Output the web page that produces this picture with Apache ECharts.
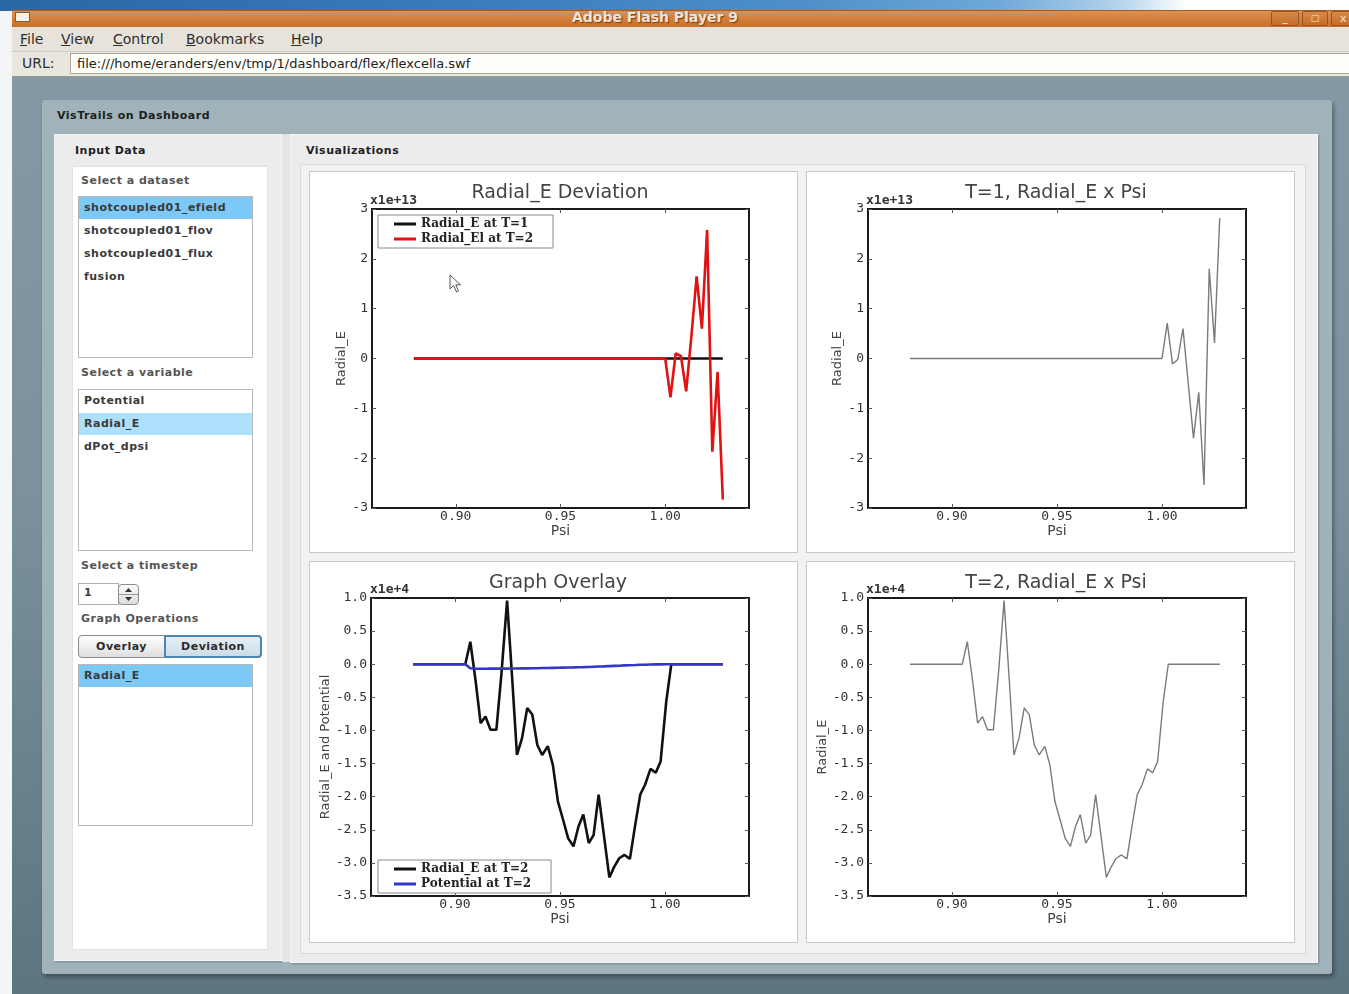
<!DOCTYPE html>
<html><head><meta charset="utf-8">
<script src="https://cdn.jsdelivr.net/npm/echarts@6/dist/echarts.min.js"></script>
<style>
html,body{margin:0;padding:0;width:1349px;height:994px;overflow:hidden;background:#f3f5f7;font-family:"DejaVu Sans",sans-serif;}
.a{position:absolute;box-sizing:border-box;}
.ui{font-size:11px;font-weight:bold;letter-spacing:0.5px;white-space:nowrap;}
.lbl{color:#555;}
.item{color:#3a3a3a;}
.list{background:#fff;border:1px solid #b9b9b9;}
.menu{font-size:14px;color:#2e2e2e;top:31px;line-height:16px;}
</style></head><body>
<!-- desktop strip -->
<div class="a" style="left:0;top:0;width:1349px;height:11px;background:linear-gradient(90deg,#2a66a4 0%,#3a7cbc 35%,#4f90ca 60%,#6fa8d8 74%,#b5d3ec 83%,#ffffff 88%);"></div>
<!-- window title bar -->
<div class="a" style="left:12px;top:10px;width:1337px;height:17px;background:linear-gradient(#de9150,#c76e2a);border-top:1px solid #a55a20;"></div>
<div class="a" style="left:15px;top:12px;width:15px;height:10px;background:#f4f0ea;border:1px solid #8a5a30;"></div>
<div class="a" style="left:520px;top:9px;width:270px;height:18px;text-align:center;font-size:14px;font-weight:bold;color:#f1e4d6;text-shadow:1px 1px 1px #7a3e10;line-height:16px;">Adobe Flash Player 9</div>
<div class="a" style="left:1271px;top:11px;width:28px;height:15px;border:1px solid #9a5420;border-radius:2px;background:linear-gradient(#d98a48,#c46c2a);color:#f3e3d3;font-size:11px;text-align:center;line-height:12px;">_</div>
<div class="a" style="left:1302px;top:11px;width:26px;height:15px;border:1px solid #9a5420;border-radius:2px;background:linear-gradient(#d98a48,#c46c2a);color:#f3e3d3;font-size:9px;text-align:center;line-height:13px;">&#9633;</div>
<div class="a" style="left:1331px;top:11px;width:26px;height:15px;border:1px solid #9a5420;border-radius:2px;background:linear-gradient(#d98a48,#c46c2a);color:#f3e3d3;font-size:11px;text-align:left;padding-left:8px;line-height:13px;">x</div>
<!-- menu bar -->
<div class="a" style="left:12px;top:27px;width:1337px;height:25px;background:#e7e3da;border-bottom:1px solid #d0cbc1;"></div>
<div class="a menu" style="left:20px;"><u>F</u>ile</div>
<div class="a menu" style="left:61px;"><u>V</u>iew</div>
<div class="a menu" style="left:113px;"><u>C</u>ontrol</div>
<div class="a menu" style="left:186px;"><u>B</u>ookmarks</div>
<div class="a menu" style="left:291px;"><u>H</u>elp</div>
<!-- url row -->
<div class="a" style="left:12px;top:52px;width:1337px;height:25px;background:#e9e6de;border-bottom:1px solid #9a9a94;"></div>
<div class="a" style="left:22px;top:55px;font-size:14px;color:#2e2e2e;line-height:16px;">URL:</div>
<div class="a" style="left:70px;top:53px;width:1290px;height:21px;background:#fffffa;border:1px solid #aba79d;font-size:13px;color:#222;line-height:19px;padding-left:6px;">file:///home/eranders/env/tmp/1/dashboard/flex/flexcella.swf</div>
<!-- flash content background -->
<div class="a" style="left:12px;top:77px;width:1337px;height:917px;background:linear-gradient(#8399a5 0%,#7b929e 45%,#5c7581 100%);"></div>
<!-- outer panel -->
<div class="a" style="left:42px;top:100px;width:1290px;height:874px;background:#a0b3ba;border-radius:3px;box-shadow:2px 3px 4px rgba(0,0,0,0.35);"></div>
<div class="a ui" style="left:57px;top:109px;color:#1e1e1e;">VisTrails on Dashboard</div>
<!-- input panel -->
<div class="a" style="left:54px;top:134px;width:228px;height:827px;background:#ececec;border:1px solid #f7f7f7;box-shadow:1px 1px 2px rgba(0,0,0,0.25);"></div>
<div class="a ui" style="left:75px;top:144px;color:#1e1e1e;">Input Data</div>
<div class="a" style="left:72px;top:166px;width:196px;height:784px;background:#fff;border:1px solid #e2e2e2;"></div>
<div class="a ui lbl" style="left:81px;top:174px;">Select a dataset</div>
<div class="a list" style="left:78px;top:196px;width:175px;height:162px;"></div>
<div class="a" style="left:79px;top:197px;width:173px;height:22px;background:#7dc9f6;"></div>
<div class="a ui item" style="left:84px;top:201px;">shotcoupled01_efield</div>
<div class="a ui item" style="left:84px;top:224px;">shotcoupled01_flov</div>
<div class="a ui item" style="left:84px;top:247px;">shotcoupled01_flux</div>
<div class="a ui item" style="left:84px;top:270px;">fusion</div>
<div class="a ui lbl" style="left:81px;top:366px;">Select a variable</div>
<div class="a list" style="left:78px;top:389px;width:175px;height:162px;"></div>
<div class="a" style="left:79px;top:413px;width:173px;height:22px;background:#ade0fa;"></div>
<div class="a ui item" style="left:84px;top:394px;">Potential</div>
<div class="a ui item" style="left:84px;top:417px;">Radial_E</div>
<div class="a ui item" style="left:84px;top:440px;">dPot_dpsi</div>
<div class="a ui lbl" style="left:81px;top:559px;">Select a timestep</div>
<div class="a" style="left:78px;top:583px;width:41px;height:22px;background:#fff;border:1px solid #b0b0b0;"></div>
<div class="a ui item" style="left:84px;top:586px;">1</div>
<div class="a" style="left:118px;top:584px;width:21px;height:21px;background:linear-gradient(#fdfdfd,#dcdcdc);border:1px solid #8c8c8c;border-radius:4px;"></div>
<div class="a" style="left:119px;top:594px;width:19px;height:1px;background:#9a9a9a;"></div>
<svg class="a" style="left:118px;top:584px;" width="21" height="21"><path d="M7,8 L10.5,4 L14,8 Z" fill="#333"/><path d="M7,13 L10.5,17 L14,13 Z" fill="#333"/></svg>
<div class="a ui lbl" style="left:81px;top:612px;">Graph Operations</div>
<div class="a ui" style="left:78px;top:635px;width:87px;height:23px;background:linear-gradient(#ffffff,#dedede);border:1px solid #8a8a8a;border-radius:4px 0 0 4px;text-align:center;line-height:21px;color:#2a2a2a;">Overlay</div>
<div class="a ui" style="left:164px;top:635px;width:98px;height:23px;background:linear-gradient(#e4eef4,#cddde8);border:2px solid #4b86b4;border-radius:0 4px 4px 0;text-align:center;line-height:19px;color:#2a2a2a;">Deviation</div>
<div class="a list" style="left:78px;top:664px;width:175px;height:162px;"></div>
<div class="a" style="left:79px;top:665px;width:173px;height:22px;background:#7dc9f6;"></div>
<div class="a ui item" style="left:84px;top:669px;">Radial_E</div>
<!-- separator strip -->
<div class="a" style="left:282px;top:134px;width:8px;height:828px;background:#e3e6e7;"></div>
<!-- visualization panel -->
<div class="a" style="left:290px;top:134px;width:1028px;height:829px;background:#ececec;border:1px solid #f7f7f7;box-shadow:1px 1px 2px rgba(0,0,0,0.25);"></div>
<div class="a ui" style="left:306px;top:144px;color:#1e1e1e;">Visualizations</div>
<div class="a" style="left:300px;top:164px;width:1006px;height:790px;background:#f2f2f2;border:1px solid #dadada;"></div>
<div class="a" style="left:309px;top:171px;width:489px;height:382px;background:#fff;border:1px solid #c9c9c9;"></div>
<div class="a" style="left:806px;top:171px;width:489px;height:382px;background:#fff;border:1px solid #c9c9c9;"></div>
<div class="a" style="left:309px;top:561px;width:489px;height:382px;background:#fff;border:1px solid #c9c9c9;"></div>
<div class="a" style="left:806px;top:561px;width:489px;height:382px;background:#fff;border:1px solid #c9c9c9;"></div>

<div id="chart" class="a" style="left:0;top:0;width:1349px;height:994px;"></div>
<svg class="a" style="left:449px;top:274px;" width="14" height="20"><path d="M1,1 L1,15 L4.5,11.5 L7.5,18 L9.5,17 L6.8,10.8 L11.5,10.8 Z" fill="#fff" stroke="#555" stroke-width="1"/></svg>

<script>
// ---- data ----
const psiTicks = [0.90, 0.95, 1.00];
// upper panels: psi grid and Radial_E values (x1e+13)
const psiT1 = [0.8800, 1.0000, 1.0025, 1.0050, 1.0075, 1.0100, 1.0125, 1.0150, 1.0175, 1.0200, 1.0225, 1.0250, 1.0275];
const devRadialE_T1 = [0, 0, 0, 0, 0, 0, 0, 0, 0, 0, 0, 0, 0];
const devRadialE_T2 = [0, 0, -0.78, 0.10, 0.05, -0.66, 0.45, 1.65, 0.60, 2.58, -1.87, -0.27, -2.83];
const radialE_T1 = [0, 0, 0.71, -0.11, -0.02, 0.60, -0.50, -1.60, -0.68, -2.54, 1.80, 0.31, 2.82];
// lower panels: psi grid, Radial_E and Potential at T=2 (x1e+4)
const psiT2 = [0.8800, 0.9049, 0.9073, 0.9098, 0.9122, 0.9145, 0.9169, 0.9197, 0.9221, 0.9248,
  0.9272, 0.9295, 0.9319, 0.9344, 0.9368, 0.9392, 0.9415, 0.9442, 0.9466, 0.9490,
  0.9513, 0.9539, 0.9564, 0.9588, 0.9611, 0.9637, 0.9660, 0.9684, 0.9709, 0.9735,
  0.9758, 0.9782, 0.9807, 0.9833, 0.9858, 0.9882, 0.9905, 0.9931, 0.9956, 0.9979,
  1.0006, 1.0030, 1.0275];
const radialE_T2 = [0, 0, 0.34, -0.25, -0.89, -0.79, -0.99, -0.99, -0.15, 0.96,
  -0.20, -1.37, -1.12, -0.66, -0.76, -1.22, -1.37, -1.24, -1.52, -2.07,
  -2.33, -2.63, -2.75, -2.45, -2.27, -2.70, -2.58, -1.97, -2.58, -3.22,
  -3.06, -2.93, -2.88, -2.94, -2.43, -1.97, -1.82, -1.58, -1.64, -1.47,
  -0.56, 0, 0];
const potential_T2 = [0, 0, -0.062, -0.068, -0.068, -0.068, -0.067, -0.067, -0.066, -0.066,
  -0.065, -0.064, -0.063, -0.062, -0.061, -0.060, -0.058, -0.057, -0.055, -0.054,
  -0.052, -0.050, -0.048, -0.046, -0.044, -0.041, -0.038, -0.035, -0.032, -0.028,
  -0.025, -0.022, -0.018, -0.015, -0.012, -0.009, -0.007, -0.005, -0.003, -0.002,
  -0.001, 0, 0];
const chartTitles = ['Radial_E Deviation', 'T=1, Radial_E x Psi', 'Graph Overlay', 'T=2, Radial_E x Psi'];
const yNames = ['Radial_E', 'Radial_E', 'Radial_E and Potential', 'Radial_E'];
const offsetTexts = ['x1e+13', 'x1e+13', 'x1e+4', 'x1e+4'];

// ---- layout ----
const grids = [
  {left: 372, top: 209, width: 377, height: 299},
  {left: 868, top: 209, width: 378, height: 299},
  {left: 371, top: 598, width: 378, height: 298},
  {left: 868, top: 598, width: 378, height: 298}
];
const yCfg = [
  {min: -3, max: 3, interval: 1, fmt: v => String(v), gap: 24},
  {min: -3, max: 3, interval: 1, fmt: v => String(v), gap: 23},
  {min: -3.5, max: 1.0, interval: 0.5, fmt: v => v.toFixed(1), gap: 37},
  {min: -3.5, max: 1.0, interval: 0.5, fmt: v => v.toFixed(1), gap: 37}
];
const xNameGap = [13, 13, 12, 12];
const tickFont = {fontFamily: '"DejaVu Sans Mono", monospace', fontSize: 13, color: '#333'};
const tickStyle = {color: '#555', width: 1};

const xAxis = [], yAxis = [];
grids.forEach((g, i) => {
  xAxis.push({gridIndex: i, type: 'value', min: 0.86, max: 1.04, position: 'bottom',
    name: 'Psi', nameLocation: 'middle', nameGap: xNameGap[i],
    nameTextStyle: {fontFamily: '"DejaVu Sans"', fontSize: 14, color: '#444'},
    axisLine: {show: false, onZero: false}, splitLine: {show: false},
    axisTick: {show: true, inside: true, length: 4, customValues: psiTicks, lineStyle: tickStyle},
    axisLabel: {customValues: psiTicks, formatter: v => v.toFixed(2), margin: 2, ...tickFont}});
  xAxis.push({gridIndex: i, type: 'value', min: 0.86, max: 1.04, position: 'top',
    axisLine: {show: false, onZero: false}, splitLine: {show: false},
    axisTick: {show: true, inside: true, length: 4, customValues: psiTicks, lineStyle: tickStyle},
    axisLabel: {show: false, customValues: psiTicks}});
  const c = yCfg[i];
  yAxis.push({gridIndex: i, type: 'value', min: c.min, max: c.max, interval: c.interval, position: 'left',
    name: yNames[i], nameLocation: 'middle', nameGap: c.gap, nameRotate: 90,
    nameTextStyle: {fontFamily: '"DejaVu Sans"', fontSize: 13, color: '#444'},
    axisLine: {show: false, onZero: false}, splitLine: {show: false},
    axisTick: {show: true, inside: true, length: 4, lineStyle: tickStyle},
    axisLabel: {formatter: c.fmt, margin: 4, ...tickFont}});
  yAxis.push({gridIndex: i, type: 'value', min: c.min, max: c.max, interval: c.interval, position: 'right',
    axisLine: {show: false, onZero: false}, splitLine: {show: false},
    axisTick: {show: true, inside: true, length: 4, lineStyle: tickStyle},
    axisLabel: {show: false}});
});

const pairs = (xs, ys) => xs.map((x, k) => [x, ys[k]]);
const lineSeries = (name, gi, data, color, width) => ({
  name, type: 'line', xAxisIndex: gi * 2, yAxisIndex: gi * 2, data,
  color, symbol: 'none', showSymbol: false, lineStyle: {width, color}, silent: true
});

const series = [
  lineSeries('Radial_E at T=1', 0, pairs(psiT1, devRadialE_T1), '#111111', 2.6),
  lineSeries('Radial_El at T=2', 0, pairs(psiT1, devRadialE_T2), '#e01212', 2.6),
  lineSeries('T=1 Radial_E', 1, pairs(psiT1, radialE_T1), '#7a7a7a', 1.4),
  lineSeries('Radial_E at T=2', 2, pairs(psiT2, radialE_T2), '#111111', 2.6),
  lineSeries('Potential at T=2', 2, pairs(psiT2, potential_T2), '#3535c8', 2.6),
  lineSeries('T=2 Radial_E', 3, pairs(psiT2, radialE_T2), '#7a7a7a', 1.4)
];

const legendBase = {
  orient: 'vertical', icon: 'rect', itemWidth: 22, itemHeight: 3, itemGap: 3,
  padding: [3, 20, 3, 16], borderColor: '#8a8a8a', borderWidth: 1, backgroundColor: '#fff',
  selectedMode: false, textStyle: {fontFamily: '"DejaVu Serif", serif', fontWeight: 'bold', fontSize: 12, color: '#222'}
};

const titlePos = [[560, 193], [1056, 193], [558, 583], [1056, 583]];
const offsetPos = [[370, 201], [866, 201], [370, 590], [866, 590]];
const graphic = [];
chartTitles.forEach((t, i) => graphic.push({type: 'text', x: titlePos[i][0], y: titlePos[i][1], silent: true,
  style: {text: t, font: '19px "DejaVu Sans"', fill: '#444', align: 'center', verticalAlign: 'middle'}}));
offsetTexts.forEach((t, i) => graphic.push({type: 'text', x: offsetPos[i][0], y: offsetPos[i][1], silent: true,
  style: {text: t, font: 'bold 13px "DejaVu Sans Mono"', fill: '#333', align: 'left', verticalAlign: 'middle'}}));

const chart = echarts.init(document.getElementById('chart'), null, {renderer: 'canvas'});
chart.setOption({
  animation: false,
  grid: grids.map(g => ({...g, show: true, borderColor: '#1a1a1a', borderWidth: 2, backgroundColor: '#fff'})),
  xAxis, yAxis, series,
  legend: [
    {...legendBase, data: ['Radial_E at T=1', 'Radial_El at T=2'], left: 378, top: 215},
    {...legendBase, data: ['Radial_E at T=2', 'Potential at T=2'], left: 378, top: 860}
  ],
  graphic
});
</script>
</body></html>
